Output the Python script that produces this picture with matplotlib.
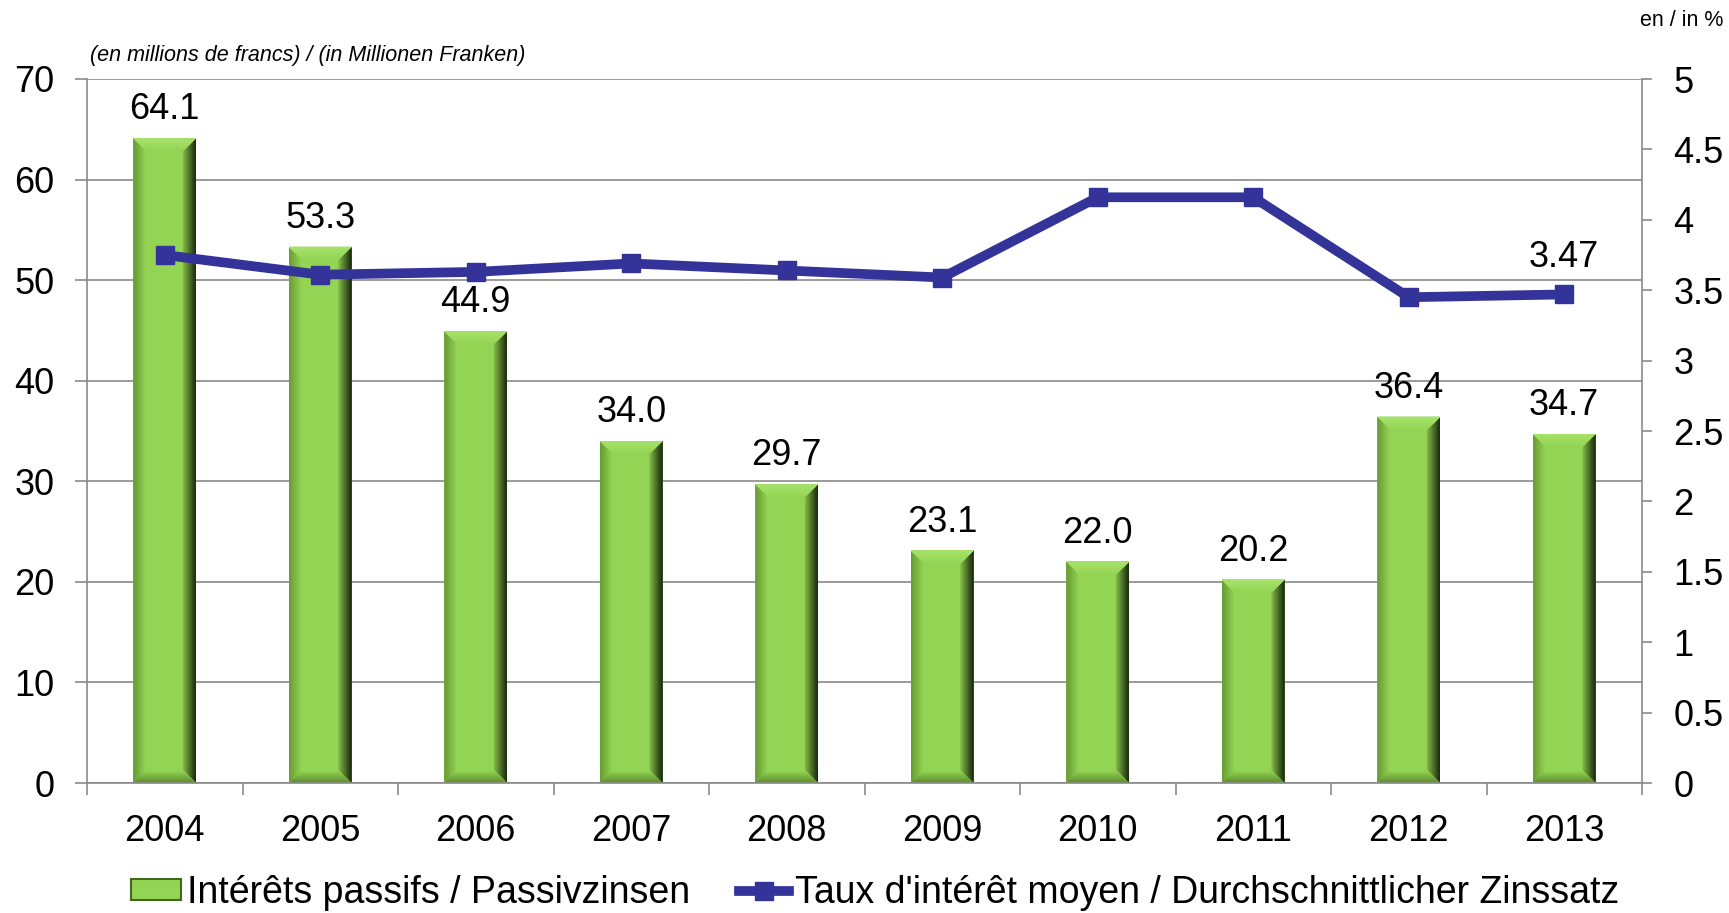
import matplotlib
matplotlib.use("Agg")
import matplotlib.pyplot as plt
import matplotlib.colors as mcolors
from matplotlib.patches import Polygon, Patch
from matplotlib.lines import Line2D
import numpy as np

# data
years = ['2004', '2005', '2006', '2007', '2008', '2009', '2010', '2011', '2012', '2013']
interets = [64.1, 53.3, 44.9, 34.0, 29.7, 23.1, 22.0, 20.2, 36.4, 34.7]
taux = [3.75, 3.61, 3.63, 3.69, 3.64, 3.59, 4.16, 4.16, 3.45, 3.47]
left_ticks = [0, 10, 20, 30, 40, 50, 60, 70]
right_ticks = [0, 0.5, 1, 1.5, 2, 2.5, 3, 3.5, 4, 4.5, 5]

bar_label = 'Intérêts passifs / Passivzinsen'
line_label = "Taux d'intérêt moyen / Durchschnittlicher Zinssatz"
unit_left = '(en millions de francs) / (in Millionen Franken)'
unit_right = 'en / in %'

W, H = 1729, 913
GREEN = '#94d454'
BLUE = '#333399'
GRID = '#8a8a8a'

plt.rcParams['font.family'] = ['Liberation Sans', 'DejaVu Sans']


def facet(ax, corners, inner, edge, n=10):
    """Draw one bevel facet as nested polygons, fading from inner colour to edge colour."""
    inner = np.array(mcolors.to_rgb(inner))
    edge = np.array(mcolors.to_rgb(edge))
    for k in range(n):
        f = 1 - k / n
        c = inner + (edge - inner) * (k / (n - 1))
        ax.add_patch(Polygon(corners(f), fc=c, ec='none', zorder=2.1))


def add_bevel(ax, bars, size_px=13):
    inv = ax.transData.inverted()
    p0 = inv.transform((0, 0))
    p1 = inv.transform((size_px, size_px))
    dx, dy = p1 - p0
    for b in bars:
        x0, y0 = b.get_x(), b.get_y()
        x1, y1 = x0 + b.get_width(), y0 + b.get_height()
        facet(ax, lambda f: [(x0, y0), (x0, y1), (x0 + dx * f, y1 - dy * f), (x0 + dx * f, y0 + dy * f)],
              GREEN, '#6a9e36')
        facet(ax, lambda f: [(x1, y0), (x1, y1), (x1 - dx * f, y1 - dy * f), (x1 - dx * f, y0 + dy * f)],
              '#7fb645', '#1e3010')
        facet(ax, lambda f: [(x0, y0), (x1, y0), (x1 - dx * f, y0 + dy * f), (x0 + dx * f, y0 + dy * f)],
              GREEN, '#5f8f30')
        facet(ax, lambda f: [(x0, y1), (x1, y1), (x1 - dx * f, y1 - dy * f), (x0 + dx * f, y1 - dy * f)],
              GREEN, '#a6e26a')


fig = plt.figure(figsize=(W / 100, H / 100), dpi=100)
ax = fig.add_axes([87 / W, 1 - 783 / H, (1642 - 87) / W, (783 - 79) / H])

x = np.arange(len(years))
bars = ax.bar(x, interets, width=0.4, color=GREEN, zorder=2)

ax.set_xlim(-0.5, len(years) - 0.5)
ax.set_ylim(0, 70)
ax.set_yticks(left_ticks)
ax.set_yticklabels([str(t) for t in left_ticks])
ax.set_xticks(x)
ax.set_xticklabels(years)
ax.set_xticks(np.arange(-0.5, len(years)), minor=True)

ax.set_axisbelow(True)
ax.yaxis.grid(True, color=GRID, linewidth=1.2)
for s in ['top', 'right']:
    ax.spines[s].set_visible(False)
for s in ['left', 'bottom']:
    ax.spines[s].set_color(GRID)
    ax.spines[s].set_linewidth(1.2)

ax.tick_params(axis='y', direction='out', length=8.5, width=1.2, color=GRID,
               labelsize=26, pad=15)
ax.tick_params(axis='x', which='major', length=0, labelsize=26, pad=22)
ax.tick_params(axis='x', which='minor', direction='out', length=8.5, width=1.2, color=GRID)

add_bevel(ax, bars)

for xi, v in zip(x, interets):
    ax.annotate(f'{v:.1f}', (xi, v), xytext=(0, 8), textcoords='offset points',
                ha='center', va='bottom', fontsize=26)

ax2 = ax.twinx()
ax2.plot(x, taux, color=BLUE, linewidth=7, marker='s', markersize=13, zorder=3)
ax2.set_ylim(0, 5)
ax2.set_yticks(right_ticks)
ax2.set_yticklabels([f'{t:g}' for t in right_ticks])
for s in ['top', 'left', 'bottom']:
    ax2.spines[s].set_visible(False)
ax2.spines['right'].set_color(GRID)
ax2.spines['right'].set_linewidth(1.2)
ax2.tick_params(axis='y', direction='out', length=7.5, width=1.2, color=GRID,
                labelsize=26, pad=15)

ax2.annotate(f'{taux[-1]:.2f}', (x[-1], taux[-1]), xytext=(0, 14), textcoords='offset points',
             ha='center', va='bottom', fontsize=26)

fig.text(90 / W, 1 - 61 / H, unit_left, style='italic', fontsize=15.5, va='baseline')
fig.text(1723 / W, 1 - 26 / H, unit_right, fontsize=15.5, ha='right', va='baseline')

handles = [Patch(facecolor=GREEN, edgecolor='#3f6a1e', linewidth=1.5),
           Line2D([], [], color=BLUE, linewidth=7, marker='s', markersize=13)]
fig.legend(handles, [bar_label, line_label], loc='lower center', bbox_to_anchor=(0.506, -0.022),
           ncol=2, frameon=False, fontsize=27, handlelength=1.35, handleheight=0.5,
           handletextpad=0.15, columnspacing=1.3, borderaxespad=0.2)

fig.savefig('out.png', dpi=100)
